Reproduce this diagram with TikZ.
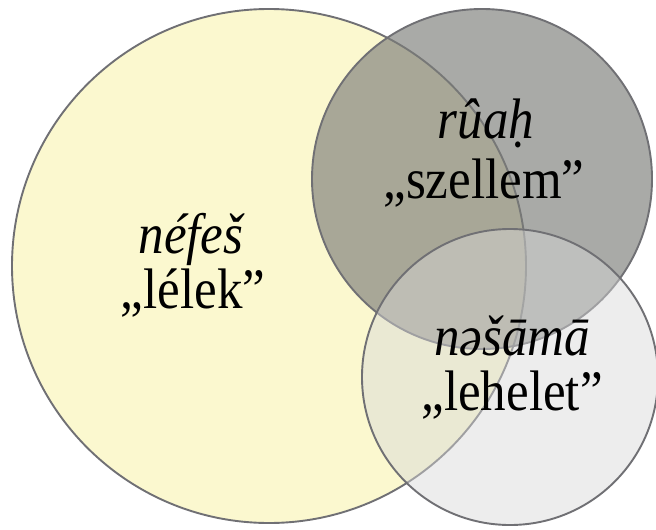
\documentclass[tikz,border=0pt]{standalone}
\usepackage{fontspec}
\setmainfont{Liberation Serif}
\definecolor{yel}{RGB}{251,248,207}
\definecolor{darkg}{RGB}{124,125,121}
\definecolor{lightg}{RGB}{216,216,216}
\definecolor{edge}{RGB}{112,112,116}
\newcommand{\tallt}[1]{\scalebox{1}[1.12]{#1}}
\tikzset{
  circ/.style={draw=edge, line width=1.9pt},
  lbl/.style={anchor=base, inner sep=0pt, font=\fontsize{51}{60}\selectfont, text=black}
}
\begin{document}
\begin{tikzpicture}[x=1pt,y=-1pt]
\useasboundingbox (0,0) rectangle (656,530);
\fill[white] (0,0) rectangle (656,530);
\draw[circ, fill=yel] (269,266) circle[radius=257pt];
\draw[circ, fill=darkg, fill opacity=0.65] (482,179) circle[radius=170pt];
\draw[circ, fill=lightg, fill opacity=0.46] (510,377) circle[radius=148pt];
\node[lbl] (nefes) at (191,253) {\tallt{\itshape néfeš}};
\node[lbl] (lelek) at (193,308) {\tallt{„lélek”}};
\node[lbl] (ruah) at (486,138) {\tallt{\itshape rûaḥ}};
\node[lbl] (szellem) at (484,198) {\tallt{„szellem”}};
\node[lbl] (nesama) at (512,355) {\tallt{\itshape nəšāmā}};
\node[lbl] (lehelet) at (512,410) {\tallt{„lehelet”}};
\end{tikzpicture}
\end{document}
